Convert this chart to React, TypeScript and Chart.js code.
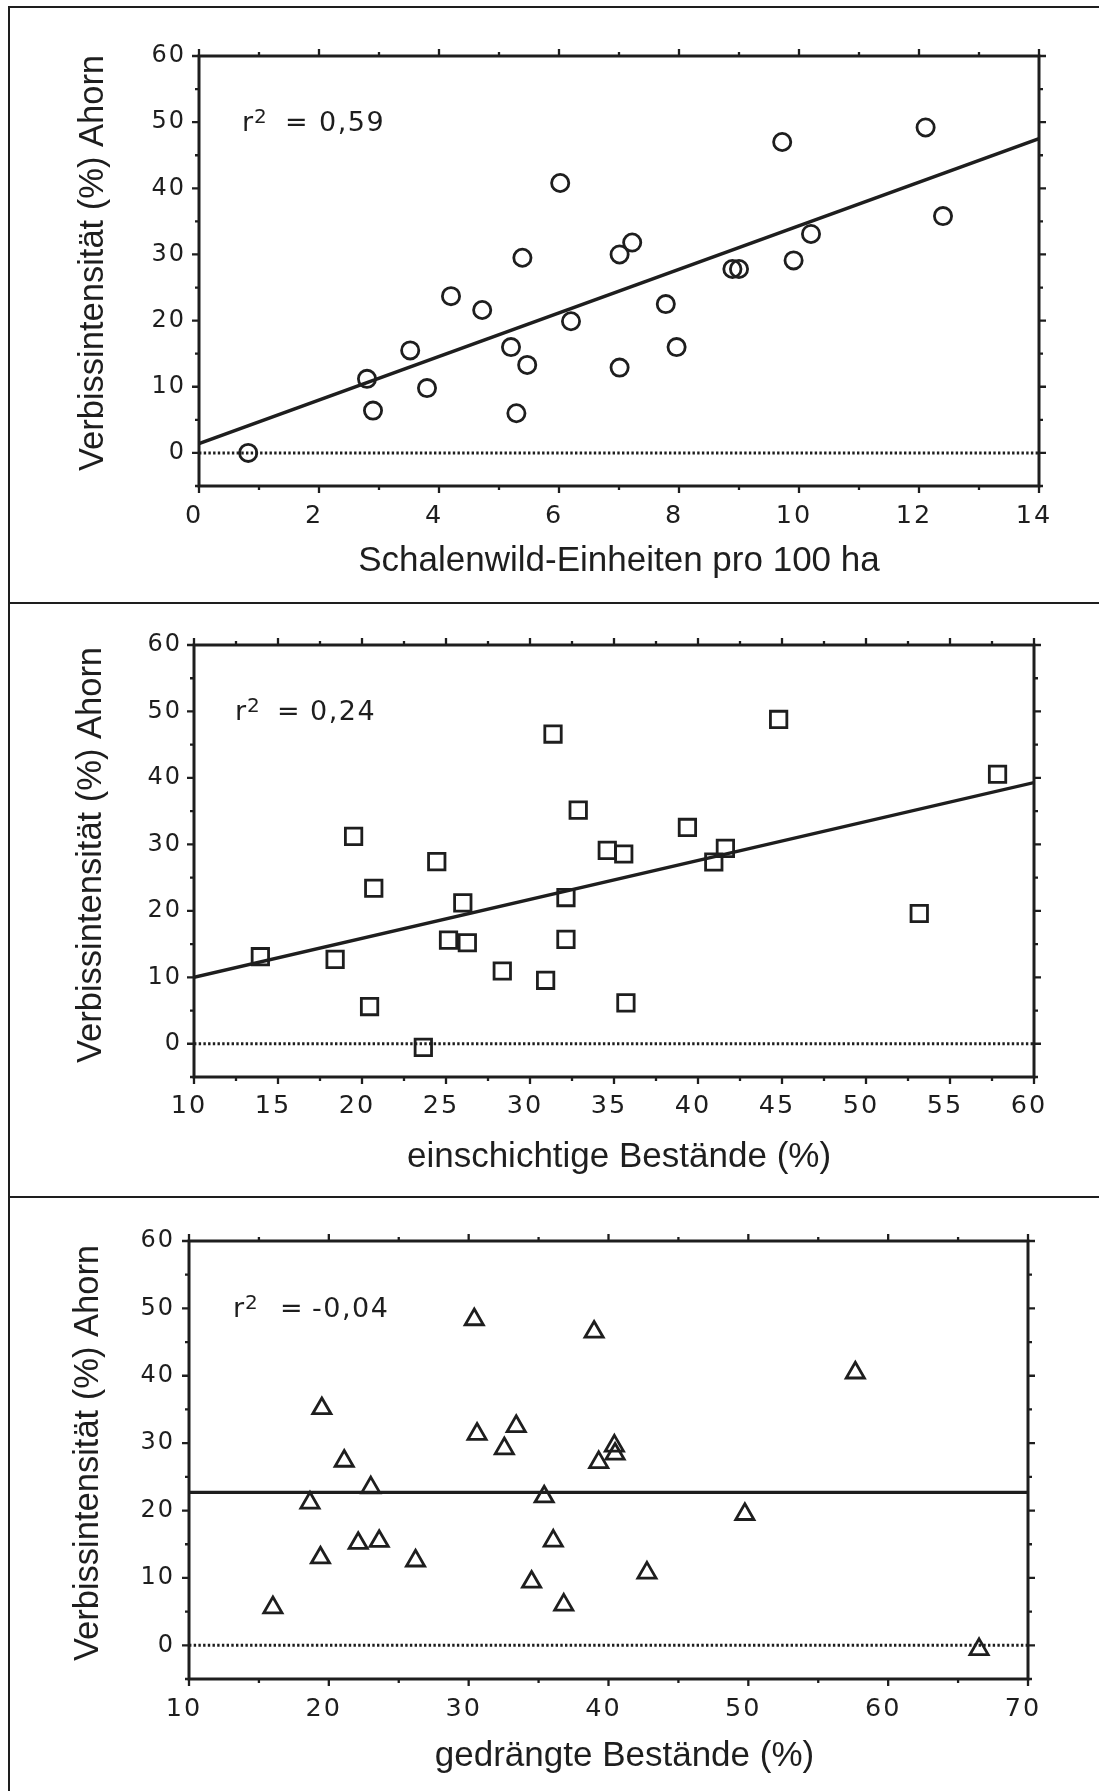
import React, { useEffect, useRef } from 'react';
import { Chart, registerables } from 'chart.js';

Chart.register(...registerables);

// ---------- data ----------
// Panel 1: Schalenwild-Einheiten pro 100 ha vs Verbissintensität
const schalenX = [0.82, 2.8, 2.9, 3.52, 3.8, 4.2, 4.72, 5.2, 5.29, 5.39, 5.47, 6.02, 6.2, 7.01, 7.22, 7.01, 7.78, 7.96, 8.89, 9.0, 9.72, 9.91, 10.2, 12.11, 12.4];
const schalenY = [0, 11.2, 6.4, 15.5, 9.8, 23.7, 21.6, 16.0, 6.0, 29.5, 13.3, 40.8, 19.9, 30.0, 31.8, 12.9, 22.5, 16.0, 27.8, 27.8, 47.0, 29.1, 33.1, 49.2, 35.8];
const reg1X = [0, 14];
const reg1Y = [1.4, 47.5];

// Panel 2: einschichtige Bestände (%)
const einX = [13.95, 18.4, 19.5, 20.7, 20.45, 23.65, 24.45, 25.15, 26.0, 26.27, 28.35, 30.93, 31.37, 32.14, 32.14, 32.87, 34.6, 35.58, 35.71, 39.37, 40.94, 41.63, 44.8, 53.17, 57.83];
const einY = [13.1, 12.7, 31.2, 23.4, 5.6, -0.55, 27.4, 15.6, 21.2, 15.2, 10.95, 9.55, 46.6, 22.0, 15.7, 35.15, 29.1, 28.55, 6.15, 32.55, 27.35, 29.4, 48.8, 19.6, 40.55];
const reg2X = [10, 60];
const reg2Y = [10.0, 39.3];

// Panel 3: gedrängte Bestände (%)
const gedX = [16.0, 18.65, 19.5, 19.4, 21.1, 23.0, 22.1, 23.6, 26.2, 30.4, 30.6, 32.55, 33.4, 34.5, 35.4, 36.05, 36.8, 38.97, 39.3, 40.42, 40.47, 42.75, 49.75, 57.65, 66.5];
const gedY = [5.6, 21.15, 35.15, 13.0, 27.35, 23.4, 15.15, 15.45, 12.55, 48.35, 31.35, 29.2, 32.5, 9.4, 22.05, 15.5, 6.0, 46.5, 27.15, 29.6, 28.4, 10.75, 19.45, 40.45, -0.6];
const reg3X = [10, 70];
const reg3Y = [22.7, 22.7];

// axes
const xMins = [0, 10, 10];
const xMaxs = [14, 60, 70];
const xMinorSteps = [1, 2.5, 5];
const xMajorSteps = [2, 5, 10];
const yMin = -5;
const yMax = 60;
const yMinorStep = 5;
const yMajorStep = 10;

// texts
const yTitle = 'Verbissintensität (%) Ahorn';
const xTitles = ['Schalenwild-Einheiten pro 100 ha', 'einschichtige Bestände (%)', 'gedrängte Bestände (%)'];
const r2Values = ['0,59', '0,24', '-0,04'];

// ---------- styling / layout ----------
const INK = '#1e1e1e';
const W = 1099;
const pointStyles = ['circle', 'rect', 'triangle'];
const pointRadii = [8.6, 11.6, 10.5];

const layouts = [
  { canvasTop: 9, canvasHeight: 592, left: 199, right: 1039, top: 56, bottom: 486, xPad: 17.5, yPad: 13, xTitleDx: 0, xTitleDy: 75, yTitleX: 93, yTitleDy: -8, rDx: 43, eqDx: 86, valDx: 120, baseDy: 75 },
  { canvasTop: 605, canvasHeight: 590, left: 194, right: 1034, top: 645, bottom: 1077, xPad: 16.5, yPad: 12, xTitleDx: 5, xTitleDy: 80, yTitleX: 91, yTitleDy: -6, rDx: 41, eqDx: 83, valDx: 116, baseDy: 75 },
  { canvasTop: 1199, canvasHeight: 592, left: 189, right: 1028, top: 1241, bottom: 1679, xPad: 18, yPad: 14, xTitleDx: 16, xTitleDy: 77, yTitleX: 88, yTitleDy: -7, rDx: 44, eqDx: 91, valDx: 123, baseDy: 75.5 },
];

const isMajor = (v: number, step: number) => Math.abs(v / step - Math.round(v / step)) < 1e-6;

const framePlugin = {
  id: 'frameTicks',
  beforeDraw(chart: any) {
    Object.values(chart.scales).forEach((s: any) => {
      if (s.__spaced) return;
      const orig = s.drawLabels;
      s.drawLabels = function (area: any) {
        const ctx = this.ctx;
        const prev = ctx.letterSpacing;
        ctx.letterSpacing = '2px';
        orig.call(this, area);
        ctx.letterSpacing = prev || '0px';
      };
      s.__spaced = true;
    });
  },
  beforeDatasetsDraw(chart: any, _args: any, opts: any) {
    const { ctx, chartArea: a } = chart;
    const x = chart.scales.x;
    const y = chart.scales.y;
    ctx.save();
    ctx.strokeStyle = INK;
    ctx.lineWidth = 2.3;
    ctx.beginPath();
    x.ticks.forEach((t: any) => {
      const px = x.getPixelForValue(t.value);
      const len = isMajor(t.value, opts.xMajor) ? 7 : 4;
      ctx.moveTo(px, a.bottom);
      ctx.lineTo(px, a.bottom + len);
      ctx.moveTo(px, a.top);
      ctx.lineTo(px, a.top - len);
    });
    y.ticks.forEach((t: any) => {
      const py = y.getPixelForValue(t.value);
      const len = isMajor(t.value, opts.yMajor) ? 7 : 4;
      ctx.moveTo(a.left, py);
      ctx.lineTo(a.left - len, py);
      ctx.moveTo(a.right, py);
      ctx.lineTo(a.right + len, py);
    });
    ctx.stroke();
    ctx.lineWidth = 3;
    ctx.strokeRect(a.left, a.top, a.right - a.left, a.bottom - a.top);
    ctx.restore();
  },
};

const textPlugin = {
  id: 'panelText',
  afterDraw(chart: any, _args: any, o: any) {
    const { ctx, chartArea: a } = chart;
    ctx.save();
    ctx.fillStyle = INK;
    // x title
    ctx.font = '35px "Liberation Sans", Arial, sans-serif';
    ctx.textAlign = 'center';
    ctx.textBaseline = 'middle';
    ctx.fillText(o.xTitle, (a.left + a.right) / 2 + o.xTitleDx, a.bottom + o.xTitleDy);
    // y title
    ctx.save();
    ctx.translate(o.yTitleX, (a.top + a.bottom) / 2 + o.yTitleDy);
    ctx.rotate(-Math.PI / 2);
    ctx.font = '34.5px "Liberation Sans", Arial, sans-serif';
    ctx.fillText(o.yTitle, 0, 0);
    ctx.restore();
    // r² annotation
    ctx.textAlign = 'left';
    ctx.textBaseline = 'alphabetic';
    const base = a.top + o.baseDy;
    ctx.font = '27px "DejaVu Sans", sans-serif';
    ctx.fillText('r', a.left + o.rDx, base);
    const rw = ctx.measureText('r').width;
    ctx.fillText('=', a.left + o.eqDx, base);
    ctx.letterSpacing = '1.5px';
    ctx.fillText(o.r2, a.left + o.valDx, base);
    ctx.letterSpacing = '0px';
    ctx.font = '20px "DejaVu Sans", sans-serif';
    ctx.fillText('2', a.left + o.rDx + rw + 1, base - 8);
    ctx.restore();
  },
};

function buildConfig(i: number): any {
  const L = layouts[i];
  const xs = [schalenX, einX, gedX][i];
  const ys = [schalenY, einY, gedY][i];
  const rx = [reg1X, reg2X, reg3X][i];
  const ry = [reg1Y, reg2Y, reg3Y][i];
  const points = xs.map((x, k) => ({ x, y: ys[k] }));
  const reg = rx.map((x, k) => ({ x, y: ry[k] }));
  const zero = [{ x: xMins[i], y: 0 }, { x: xMaxs[i], y: 0 }];
  const areaTop = L.top - L.canvasTop;
  const areaBottom = L.bottom - L.canvasTop;
  return {
    type: 'scatter',
    data: {
      datasets: [
        {
          type: 'line', data: zero, borderColor: INK, borderWidth: 3, borderDash: [2.4, 2.3],
          pointRadius: 0, fill: false, order: 3,
        },
        {
          type: 'line', data: reg, borderColor: INK, borderWidth: 3.4, pointRadius: 0, fill: false, order: 2,
        },
        {
          type: 'scatter', data: points, pointStyle: pointStyles[i], pointRadius: pointRadii[i],
          pointBorderWidth: 2.8, pointBorderColor: INK, pointBackgroundColor: 'rgba(0,0,0,0)',
          borderColor: INK, backgroundColor: 'rgba(0,0,0,0)', clip: false, order: 1,
        },
      ],
    },
    options: {
      animation: false,
      responsive: false,
      events: [],
      layout: { padding: { left: 0, top: areaTop, right: W - L.right, bottom: 0 } },
      plugins: {
        legend: { display: false },
        tooltip: { enabled: false },
        frameTicks: { xMajor: xMajorSteps[i], yMajor: yMajorStep },
        panelText: {
          xTitle: xTitles[i], yTitle, r2: r2Values[i],
          xTitleDx: L.xTitleDx, xTitleDy: L.xTitleDy, yTitleX: L.yTitleX, yTitleDy: L.yTitleDy,
          rDx: L.rDx, eqDx: L.eqDx, valDx: L.valDx, baseDy: L.baseDy,
        },
      },
      scales: {
        x: {
          type: 'linear', min: xMins[i], max: xMaxs[i],
          grid: { display: false, drawTicks: false },
          border: { display: false },
          ticks: {
            stepSize: xMinorSteps[i], autoSkip: false, maxRotation: 0, minRotation: 0,
            padding: L.xPad, labelOffset: -5, color: INK,
            font: { family: '"DejaVu Sans", sans-serif', size: 25.5, lineHeight: 1 },
            callback: (v: number) => (isMajor(v, xMajorSteps[i]) ? String(v) : ''),
          },
          afterFit: (s: any) => { s.height = L.canvasHeight - areaBottom; },
        },
        y: {
          type: 'linear', min: yMin, max: yMax,
          grid: { display: false, drawTicks: false },
          border: { display: false },
          ticks: {
            stepSize: yMinorStep, autoSkip: false, padding: L.yPad, color: INK,
            font: { family: '"DejaVu Sans", sans-serif', size: 24, lineHeight: 1 },
            callback: (v: number) => (v >= 0 && isMajor(v, yMajorStep) ? String(v) : ''),
          },
          afterFit: (s: any) => { s.width = L.left; },
        },
      },
    },
    plugins: [framePlugin, textPlugin],
  };
}

function Panel({ index }: { index: number }) {
  const ref = useRef<HTMLCanvasElement>(null);
  const L = layouts[index];
  useEffect(() => {
    if (!ref.current) return;
    const chart = new Chart(ref.current, buildConfig(index));
    return () => chart.destroy();
  }, [index]);
  return (
    <canvas
      ref={ref}
      width={W}
      height={L.canvasHeight}
      style={{ position: 'absolute', left: 0, top: L.canvasTop, width: W, height: L.canvasHeight, display: 'block' }}
    />
  );
}

const line = (style: React.CSSProperties) => (
  <div style={{ position: 'absolute', background: INK, zIndex: 2, ...style }} />
);

export default function App() {
  return (
    <div style={{ position: 'absolute', left: 0, top: 0, width: W, height: 1791, overflow: 'hidden', background: '#fff' }}>
      <Panel index={0} />
      <Panel index={1} />
      <Panel index={2} />
      {line({ left: 8, top: 6, width: W - 8, height: 2 })}
      {line({ left: 8, top: 602, width: W - 8, height: 2 })}
      {line({ left: 8, top: 1196, width: W - 8, height: 2 })}
      {line({ left: 8, top: 6, width: 2, height: 1791 - 6 })}
    </div>
  );
}
